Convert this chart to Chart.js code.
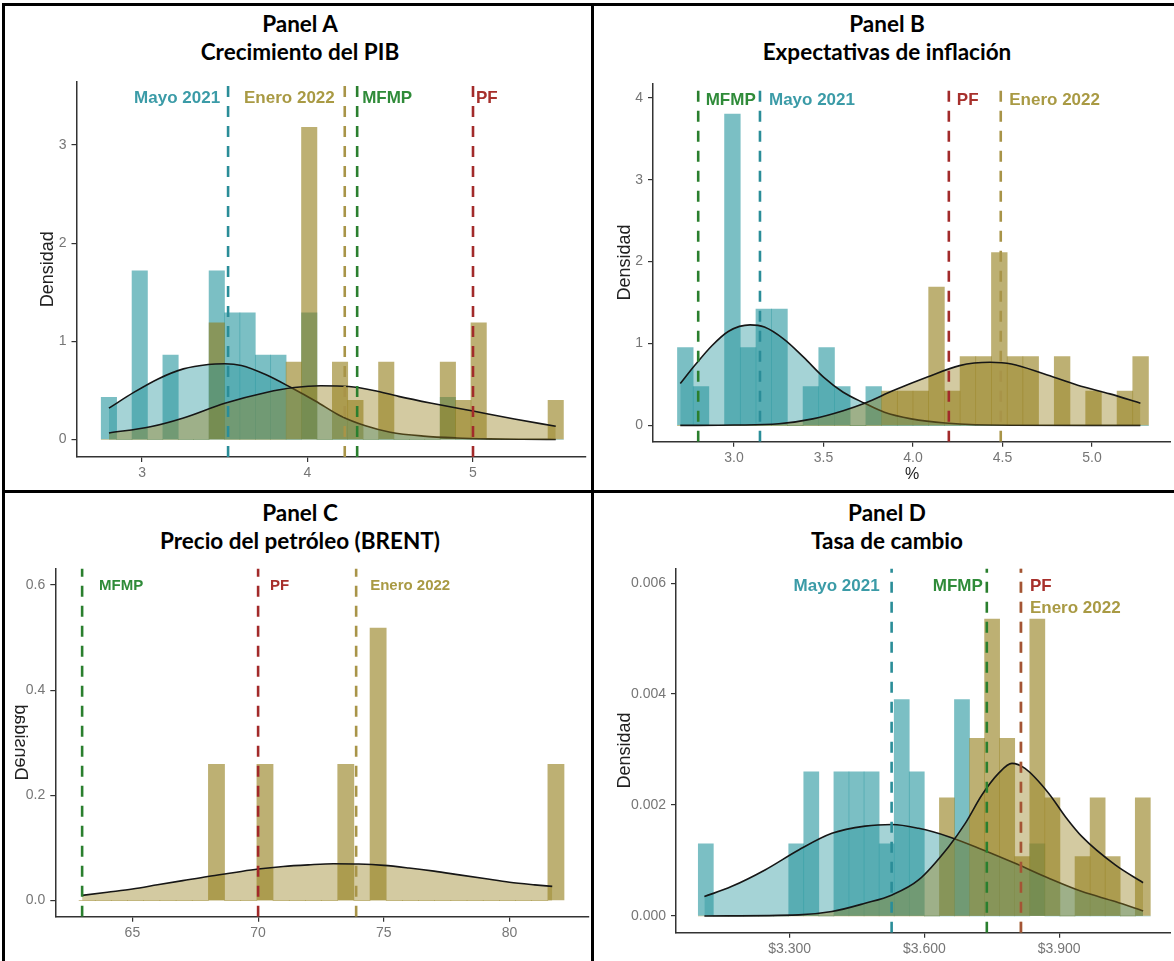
<!DOCTYPE html>
<html lang="es">
<head>
<meta charset="utf-8">
<title>Distribución de expectativas</title>
<script src="https://cdn.jsdelivr.net/npm/chart.js@4.4.1/dist/chart.umd.min.js"></script>
<style>
  html, body { margin: 0; padding: 0; background: #fff; }
  body { position: relative; width: 1174px; height: 961px; overflow: hidden; }
  .rule { position: absolute; background: #000; }
  .title {
    position: absolute; width: 560px; text-align: center;
    font-family: Lato, "Liberation Sans", sans-serif; font-weight: 700;
    font-size: 22.5px; line-height: 28px; color: #000;
  }
  canvas { position: absolute; }
</style>
</head>
<body>
<div class="rule" style="left:2px;top:3px;width:1172px;height:3px"></div>
<div class="rule" style="left:2px;top:3px;width:3px;height:958px"></div>
<div class="rule" style="left:591px;top:3px;width:3px;height:958px"></div>
<div class="rule" style="left:2px;top:490px;width:1172px;height:3px"></div>

<div class="title" style="left:20px;top:9.6px">Panel A<br>Crecimiento del PIB</div>
<div class="title" style="left:607px;top:9.6px">Panel B<br>Expectativas de inflación</div>
<div class="title" style="left:20px;top:499px">Panel C<br>Precio del petróleo (BRENT)</div>
<div class="title" style="left:607px;top:499px">Panel D<br>Tasa de cambio</div>

<script>
// ---------- Panel A: crecimiento del PIB (%) ----------
const binsA = [2.8, 2.8931, 2.9862, 3.0793, 3.1724, 3.2655, 3.3586, 3.4517, 3.5448, 3.6379,
  3.731, 3.8241, 3.9172, 4.0103, 4.1034, 4.1965, 4.2896, 4.3827, 4.4758, 4.5689,
  4.662, 4.7551, 4.8482, 4.9413, 5.0344, 5.1275, 5.2206, 5.3137, 5.4068, 5.4999];
const mayoA = [0.43, 0, 1.72, 0, 0.86, 0, 0, 1.72, 1.29, 1.29, 0.86, 0.86, 0, 1.29, 0,
  0, 0, 0, 0, 0, 0, 0, 0.43, 0, 0, 0, 0, 0, 0, 0];
const eneroA = [0, 0, 0, 0, 0, 0, 0, 1.19, 0, 0, 0, 0, 0.79, 3.18, 0,
  0.79, 0.4, 0, 0.79, 0, 0, 0, 0.79, 0.4, 1.19, 0, 0, 0, 0, 0.4];
const curveMayoXA = [2.8, 2.95, 3.1, 3.25, 3.4, 3.5, 3.6, 3.75, 3.9, 4.05, 4.2, 4.35, 4.5, 4.7, 4.9, 5.1, 5.3, 5.5];
const curveMayoYA = [0.32, 0.48, 0.62, 0.72, 0.765, 0.772, 0.755, 0.66, 0.53, 0.39, 0.24, 0.14, 0.075, 0.035, 0.016, 0.007, 0.003, 0.001];
const curveEneroXA = [2.8, 3.05, 3.25, 3.5, 3.75, 3.92, 4.08, 4.25, 4.4, 4.55, 4.75, 5.0, 5.25, 5.5];
const curveEneroYA = [0.067, 0.13, 0.22, 0.37, 0.48, 0.53, 0.548, 0.54, 0.5, 0.44, 0.37, 0.29, 0.21, 0.135];
const refNamesA = ["Mayo 2021", "Enero 2022", "MFMP", "PF"];
const refValuesA = [3.52, 4.225, 4.3, 5.0];
const xTicksA = [3, 4, 5];
const xTickLabelsA = ["3", "4", "5"];
const yTicksA = [0, 1, 2, 3];
const yTickLabelsA = ["0", "1", "2", "3"];

// ---------- Panel B: expectativas de inflación (%) ----------
const binsB = [2.728, 2.8157, 2.9034, 2.9911, 3.0788, 3.1665, 3.2542, 3.3419, 3.4296, 3.5173,
  3.605, 3.6927, 3.7804, 3.8681, 3.9558, 4.0435, 4.1312, 4.2189, 4.3066, 4.3943,
  4.482, 4.5697, 4.6574, 4.7451, 4.8328, 4.9205, 5.0082, 5.0959, 5.1836, 5.2713];
const mayoB = [0.95, 0.475, 0, 3.8, 0.95, 1.42, 1.42, 0, 0.475, 0.95, 0.475, 0, 0.475, 0, 0,
  0, 0, 0, 0, 0, 0, 0, 0, 0, 0, 0, 0, 0, 0, 0];
const eneroB = [0, 0, 0, 0, 0, 0, 0, 0, 0, 0, 0, 0, 0, 0.42, 0.42,
  0.42, 1.69, 0.42, 0.84, 0.84, 2.11, 0.84, 0.84, 0, 0.84, 0, 0.42, 0, 0.42, 0.84];
const curveMayoXB = [2.7, 2.78, 2.875, 2.97, 3.09, 3.17, 3.28, 3.39, 3.5, 3.61, 3.73, 3.84, 3.99, 4.18, 4.55, 5.27];
const curveMayoYB = [0.51, 0.73, 0.97, 1.15, 1.227, 1.2, 1.05, 0.83, 0.59, 0.405, 0.27, 0.16, 0.08, 0.03, 0.002, 0];
const curveEneroXB = [2.7, 3.0, 3.25, 3.44, 3.61, 3.73, 3.89, 4.08, 4.26, 4.43, 4.55, 4.73, 4.92, 5.1, 5.27];
const curveEneroYB = [0, 0.004, 0.02, 0.08, 0.18, 0.27, 0.425, 0.59, 0.73, 0.77, 0.75, 0.63, 0.49, 0.385, 0.27];
const refNamesB = ["MFMP", "Mayo 2021", "PF", "Enero 2022"];
const refValuesB = [2.8, 3.145, 4.2, 4.49];
const xTicksB = [3, 3.5, 4, 4.5, 5];
const xTickLabelsB = ["3.0", "3.5", "4.0", "4.5", "5.0"];
const yTicksB = [0, 1, 2, 3, 4];
const yTickLabelsB = ["0", "1", "2", "3", "4"];

// ---------- Panel C: precio del petróleo Brent (USD) ----------
const binsC = [63.2, 63.843, 64.486, 65.129, 65.772, 66.415, 67.058, 67.701, 68.344, 68.987,
  69.63, 70.273, 70.916, 71.559, 72.202, 72.845, 73.488, 74.131, 74.774, 75.417,
  76.06, 76.703, 77.346, 77.989, 78.632, 79.275, 79.918, 80.561, 81.204, 81.847];
const eneroC = [0, 0, 0, 0, 0, 0, 0, 0, 0.259, 0, 0, 0.259, 0, 0, 0,
  0, 0.259, 0, 0.518, 0, 0, 0, 0, 0, 0, 0, 0, 0, 0, 0.259];
const curveEneroXC = [63, 64, 65, 66, 67, 68, 69, 70, 71, 72, 73, 74, 75, 76, 77, 78, 79, 80, 81, 81.7];
const curveEneroYC = [0.01, 0.016, 0.022, 0.03, 0.038, 0.046, 0.053, 0.06, 0.065, 0.068, 0.07, 0.0695, 0.067, 0.062, 0.056, 0.049, 0.042, 0.035, 0.03, 0.027];
const refNamesC = ["MFMP", "PF", "Enero 2022"];
const refValuesC = [63.0, 70.0, 73.9];
const xTicksC = [65, 70, 75, 80];
const xTickLabelsC = ["65", "70", "75", "80"];
const yTicksC = [0, 0.2, 0.4, 0.6];
const yTickLabelsC = ["0.0", "0.2", "0.4", "0.6"];

// ---------- Panel D: tasa de cambio (COP por USD) ----------
const binsD = [3113.2, 3146.8, 3180.3, 3213.9, 3247.4, 3281.0, 3314.6, 3348.1, 3381.7, 3415.2,
  3448.8, 3482.4, 3515.9, 3549.5, 3583.0, 3616.6, 3650.2, 3683.7, 3717.3, 3750.8,
  3784.4, 3818.0, 3851.5, 3885.1, 3918.6, 3952.2, 3985.8, 4019.3, 4052.9, 4086.4];
const mayoD = [0.0013, 0, 0, 0, 0, 0, 0.0013, 0.0026, 0, 0.0026, 0.0026, 0.0026, 0.0013, 0.0039, 0.0026,
  0, 0, 0.0039, 0, 0, 0, 0, 0.0013, 0, 0, 0, 0, 0, 0, 0];
const eneroD = [0, 0, 0, 0, 0, 0, 0, 0, 0, 0, 0, 0, 0, 0, 0,
  0, 0.00213, 0, 0.0032, 0.00535, 0.0032, 0.00107, 0.00535, 0.00213, 0, 0.00107, 0.00213, 0.00107, 0, 0.00213];
const curveMayoXD = [3110, 3170, 3245, 3320, 3394, 3468, 3528, 3587, 3654, 3728, 3802, 3877, 3951, 4025, 4087];
const curveMayoYD = [0.00035, 0.00053, 0.00083, 0.00119, 0.00149, 0.00162, 0.00165, 0.00158, 0.00143, 0.0012, 0.00095, 0.00068, 0.00044, 0.00026, 0.00009];
const curveEneroXD = [3110, 3320, 3394, 3468, 3528, 3587, 3654, 3691, 3728, 3765, 3795, 3824, 3877, 3914, 3951, 4025, 4087];
const curveEneroYD = [0, 0.00002, 0.00008, 0.00023, 0.00038, 0.00065, 0.00125, 0.00167, 0.00218, 0.00257, 0.00275, 0.00266, 0.00221, 0.00179, 0.00143, 0.00092, 0.0006];
const refNamesD = ["Mayo 2021", "MFMP", "PF", "Enero 2022"];
const refValuesD = [3527, 3739, 3815, 3815];
const xTicksD = [3300, 3600, 3900];
const xTickLabelsD = ["$3.300", "$3.600", "$3.900"];
const yTicksD = [0, 0.002, 0.004, 0.006];
const yTickLabelsD = ["0.000", "0.002", "0.004", "0.006"];

// colours: [line, text]
const REF_STYLE = {
  "Mayo 2021": ["#2a8d98", "#3b9ba7"],
  "Enero 2022": ["#a89448", "#a99a44"],
  "MFMP": ["#2a7f2e", "#2f8b39"],
  "PF": ["#a22a2a", "#a7302c"]
};
const BAR_MAYO = "rgba(35,148,157,0.6)";
const BAR_ENERO = "rgba(145,124,22,0.6)";
const FILL_MAYO = "rgba(40,150,158,0.42)";
const FILL_ENERO = "rgba(150,128,30,0.42)";
const FONT = '"Liberation Sans", Arial, sans-serif';

function buildPanel(p) {
  const canvas = document.createElement("canvas");
  canvas.width = p.box.width;
  canvas.height = p.box.height;
  canvas.style.left = p.box.left + "px";
  canvas.style.top = p.box.top + "px";
  document.body.appendChild(canvas);

  const datasets = [];
  p.hist.forEach(h => datasets.push({
    type: "bar",
    data: p.bins.map((x, i) => ({ x: x, y: h.values[i] })),
    backgroundColor: h.color,
    borderWidth: 0,
    grouped: false,
    barPercentage: 1,
    categoryPercentage: 1,
    order: 10
  }));
  p.curves.forEach(c => datasets.push({
    type: "line",
    data: c.x.map((x, i) => ({ x: x, y: c.y[i] })),
    borderColor: "#161616",
    borderWidth: 1.6,
    backgroundColor: c.fill,
    fill: "origin",
    pointRadius: 0,
    cubicInterpolationMode: "monotone",
    order: 5
  }));
  p.refNames.forEach((name, i) => {
    let color = REF_STYLE[name][0];
    // where two reference lines coincide the top one is drawn see-through
    if (p.refSeeThrough && p.refSeeThrough[i]) color = Chart.helpers.color(color).alpha(0.6).rgbString();
    datasets.push({
      type: "line",
      data: [{ x: p.refValues[i], y: p.yRange[0] }, { x: p.refValues[i], y: p.yRange[1] }],
      borderColor: color,
      borderWidth: 2.6,
      borderDash: [11, 9],
      pointRadius: 0,
      fill: false,
      order: 1
    });
  });

  const labels = {
    id: "refLabels",
    afterDatasetsDraw(chart) {
      const { ctx, chartArea, scales } = chart;
      ctx.save();
      ctx.textBaseline = "middle";
      ctx.font = "bold " + p.labelSize + "px " + FONT;
      p.refNames.forEach((name, i) => {
        const [align, dx, dy] = p.refPlace[i];
        ctx.textAlign = align;
        ctx.fillStyle = REF_STYLE[name][1];
        ctx.fillText(name, scales.x.getPixelForValue(p.refValues[i]) + dx, chartArea.top + dy);
      });
      // axis titles
      ctx.fillStyle = "#222";
      ctx.font = "18px " + FONT;
      ctx.textAlign = "center";
      ctx.translate(chartArea.left + p.yTitleDx, (chartArea.top + chartArea.bottom) / 2);
      if (p.mirrorYTitle) ctx.scale(-1, 1);
      ctx.rotate(-Math.PI / 2);
      ctx.fillText("Densidad", 0, 0);
      ctx.setTransform(1, 0, 0, 1, 0, 0);
      if (p.xTitle) {
        ctx.font = "16px " + FONT;
        ctx.fillText(p.xTitle, (chartArea.left + chartArea.right) / 2, chartArea.bottom + p.xTitleDy);
      }
      ctx.restore();
    }
  };

  const tickFont = { family: FONT, size: 14 };
  new Chart(canvas, {
    type: "bar",
    data: { datasets: datasets },
    options: {
      responsive: false,
      animation: false,
      events: [],
      layout: {
        padding: {
          top: p.area.top - p.box.top,
          right: p.box.left + p.box.width - p.area.right,
          left: 0,
          bottom: 0
        }
      },
      plugins: { legend: { display: false }, tooltip: { enabled: false } },
      scales: {
        x: {
          type: "linear",
          min: p.xRange[0],
          max: p.xRange[1],
          bounds: "data",
          offset: false,
          grid: { display: true, offset: false, drawOnChartArea: false, drawTicks: true, tickLength: 5, color: "#333", lineWidth: 1.2 },
          border: { display: true, color: "#333", width: 1.5 },
          ticks: { color: "#767676", font: tickFont, padding: 3, autoSkip: false, maxRotation: 0,
            callback: (v, i) => p.xTickLabels[i] },
          afterBuildTicks: s => { s.ticks = p.xTicks.map(v => ({ value: v })); },
          afterFit: s => { s.height = p.box.top + p.box.height - p.area.bottom; }
        },
        y: {
          type: "linear",
          position: "left",
          min: p.yRange[0],
          max: p.yRange[1],
          bounds: "data",
          grid: { display: true, drawOnChartArea: false, drawTicks: true, tickLength: 5, color: "#333", lineWidth: 1.2 },
          border: { display: true, color: "#333", width: 1.5 },
          ticks: { color: "#767676", font: tickFont, padding: 5, autoSkip: false,
            callback: (v, i) => p.yTickLabels[i] },
          afterBuildTicks: s => { s.ticks = p.yTicks.map(v => ({ value: v })); },
          afterFit: s => { s.width = p.area.left - p.box.left; }
        }
      }
    },
    plugins: [labels]
  });
}

buildPanel({
  box: { left: 7, top: 68, width: 584, height: 421 },
  area: { left: 76.5, top: 77.3, right: 585.2, bottom: 457 },
  xRange: [2.604, 5.678], yRange: [-0.178, 3.649],
  bins: binsA,
  hist: [{ values: eneroA, color: BAR_ENERO }, { values: mayoA, color: BAR_MAYO }],
  curves: [{ x: curveEneroXA, y: curveEneroYA, fill: FILL_ENERO }, { x: curveMayoXA, y: curveMayoYA, fill: FILL_MAYO }],
  refNames: refNamesA, refValues: refValuesA,
  refPlace: [["right", -8, 16.7], ["right", -10, 16.7], ["left", 5, 16.7], ["left", 3, 16.7]],
  labelSize: 17,
  xTicks: xTicksA, xTickLabels: xTickLabelsA, yTicks: yTicksA, yTickLabels: yTickLabelsA,
  yTitleDx: -28, mirrorYTitle: false
});

buildPanel({
  box: { left: 594, top: 70, width: 577, height: 419 },
  area: { left: 653, top: 81.7, right: 1171, bottom: 441.7 },
  xRange: [2.5475, 5.441], yRange: [-0.199, 4.175],
  bins: binsB,
  hist: [{ values: eneroB, color: BAR_ENERO }, { values: mayoB, color: BAR_MAYO }],
  curves: [{ x: curveEneroXB, y: curveEneroYB, fill: FILL_ENERO }, { x: curveMayoXB, y: curveMayoYB, fill: FILL_MAYO }],
  refNames: refNamesB, refValues: refValuesB,
  refPlace: [["left", 7.5, 17.3], ["left", 9, 17.3], ["left", 8, 17.3], ["left", 8.5, 17.3]],
  labelSize: 17,
  xTicks: xTicksB, xTickLabels: xTickLabelsB, yTicks: yTicksB, yTickLabels: yTickLabelsB,
  yTitleDx: -28, mirrorYTitle: false, xTitle: "%", xTitleDy: 33
});

buildPanel({
  box: { left: 7, top: 555, width: 584, height: 403 },
  area: { left: 55.3, top: 561.7, right: 588.2, bottom: 916.7 },
  xRange: [61.933, 83.13], yRange: [-0.0306, 0.6317],
  bins: binsC,
  hist: [{ values: eneroC, color: BAR_ENERO }],
  curves: [{ x: curveEneroXC, y: curveEneroYC, fill: FILL_ENERO }],
  refNames: refNamesC, refValues: refValuesC,
  refPlace: [["left", 17, 17.3], ["left", 12, 17.3], ["left", 14, 17.3]],
  labelSize: 15,
  xTicks: xTicksC, xTickLabels: xTickLabelsC, yTicks: yTicksC, yTickLabels: yTickLabelsC,
  yTitleDx: -35, mirrorYTitle: true
});

buildPanel({
  box: { left: 594, top: 555, width: 577, height: 403 },
  area: { left: 676, top: 568.3, right: 1171, bottom: 932.7 },
  xRange: [3046.8, 4149.2], yRange: [-0.000301, 0.006265],
  bins: binsD,
  hist: [{ values: eneroD, color: BAR_ENERO }, { values: mayoD, color: BAR_MAYO }],
  curves: [{ x: curveEneroXD, y: curveEneroYD, fill: FILL_ENERO }, { x: curveMayoXD, y: curveMayoYD, fill: FILL_MAYO }],
  refNames: refNamesD, refValues: refValuesD,
  refSeeThrough: [false, false, true, false],
  refPlace: [["right", -12, 18.2], ["right", -4, 18.2], ["left", 9, 18.2], ["left", 9, 39.7]],
  labelSize: 17,
  xTicks: xTicksD, xTickLabels: xTickLabelsD, yTicks: yTicksD, yTickLabels: yTickLabelsD,
  yTitleDx: -51, mirrorYTitle: false
});
</script>
</body>
</html>
